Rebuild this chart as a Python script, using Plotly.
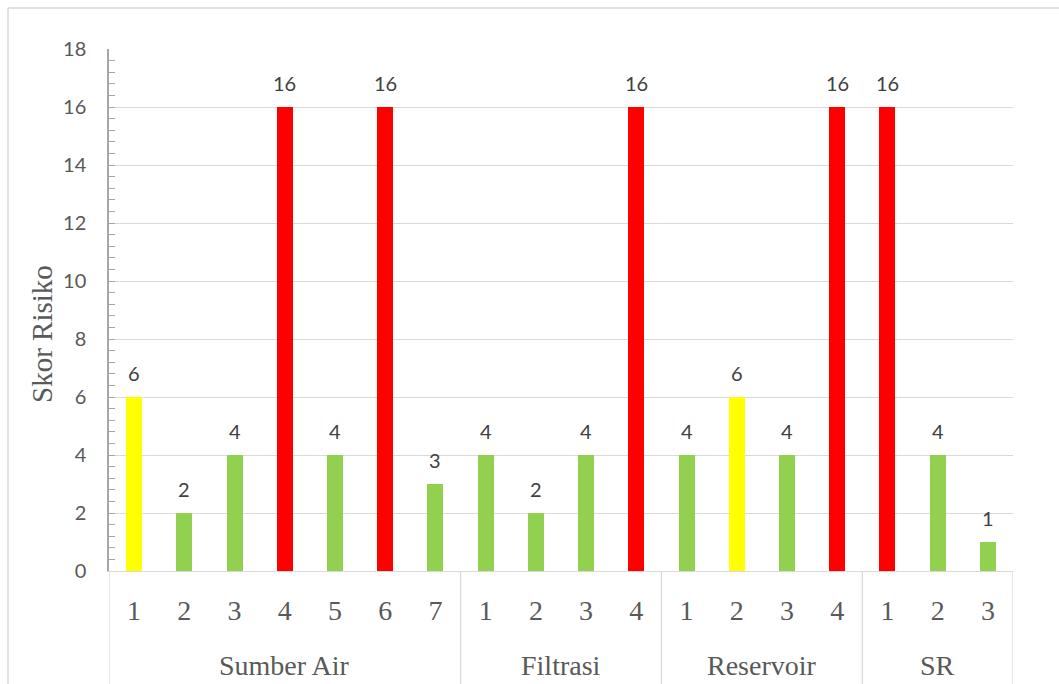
import plotly.graph_objects as go

# Risk score per process step, grouped by unit of the water system
groups = ["Sumber Air", "Filtrasi", "Reservoir", "SR"]
group_sizes = [7, 4, 4, 3]
step_labels = ["1", "2", "3", "4", "5", "6", "7",
               "1", "2", "3", "4",
               "1", "2", "3", "4",
               "1", "2", "3"]
scores = [6, 2, 4, 16, 4, 16, 3,
          4, 2, 4, 16,
          4, 6, 4, 16,
          16, 4, 1]
risk_levels = ["medium", "low", "low", "high", "low", "high", "low",
               "low", "low", "low", "high",
               "low", "medium", "low", "high",
               "high", "low", "low"]

level_colors = {"low": "#92D050", "medium": "#FFFF00", "high": "#FF0000"}

W, H = 1059, 684
L, R, T, B = 109, 46, 49, 113
plot_w = W - L - R
plot_h = H - T - B

SERIF = "Liberation Serif, Times New Roman, serif"
SANS = "Lato, Open Sans, sans-serif"


def px_x(px):
    return (px - L) / plot_w


def px_y(py):
    return (H - B - py) / plot_h


xs = list(range(len(scores)))

fig = go.Figure()
fig.add_trace(go.Bar(
    x=xs,
    y=scores,
    width=0.32,
    marker=dict(color=[level_colors[lv] for lv in risk_levels], line=dict(width=0)),
    hoverinfo="y",
))

annotations = []
# value labels above bars
for xi, v in zip(xs, scores):
    annotations.append(dict(
        x=xi, y=v, xref="x", yref="y", text=str(v), showarrow=False,
        yanchor="bottom", yshift=10,
        font=dict(family=SANS, size=20, color="#404040"),
    ))

# group labels and dividers under the axis
shapes = []
start = 0
bounds = [-0.5]
for g, n in zip(groups, group_sizes):
    center = start + (n - 1) / 2
    annotations.append(dict(
        x=center, y=px_y(665), xref="x", yref="paper", text=g, showarrow=False,
        yanchor="middle",
        font=dict(family=SERIF, size=28, color="#595959"),
    ))
    start += n
    bounds.append(start - 0.5)

for b in bounds:
    shapes.append(dict(
        type="line", xref="x", yref="paper", x0=b, x1=b, y0=0, y1=px_y(H),
        line=dict(color="#D9D9D9", width=1.3), layer="below",
    ))

# outer chart frame
shapes.append(dict(type="line", xref="paper", yref="paper",
                   x0=px_x(8), x1=px_x(W), y0=px_y(8), y1=px_y(8),
                   line=dict(color="#D9D9D9", width=1.5)))
shapes.append(dict(type="line", xref="paper", yref="paper",
                   x0=px_x(8), x1=px_x(8), y0=px_y(8), y1=px_y(H),
                   line=dict(color="#D9D9D9", width=1.5)))

# y-axis title
annotations.append(dict(
    x=px_x(42), y=px_y(334), xref="paper", yref="paper", text="Skor Risiko",
    showarrow=False, textangle=-90, xanchor="center", yanchor="middle",
    font=dict(family=SERIF, size=29, color="#595959"),
))

fig.update_layout(
    width=W, height=H,
    margin=dict(l=L, r=R, t=T, b=B, pad=0),
    paper_bgcolor="white", plot_bgcolor="white",
    showlegend=False,
    annotations=annotations,
    shapes=shapes,
    bargap=0,
)

fig.update_xaxes(
    range=[-0.5, len(scores) - 0.5],
    tickmode="array", tickvals=xs, ticktext=step_labels,
    ticks="", showgrid=False, zeroline=False,
    showline=True, linecolor="#D9D9D9", linewidth=1.3,
    tickfont=dict(family=SERIF, size=28, color="#595959"),
    ticklabelstandoff=14,
    fixedrange=True,
)

fig.update_yaxes(
    range=[0, 18], dtick=2, tick0=0,
    showgrid=True, gridcolor="#D9D9D9", gridwidth=1.3,
    zeroline=False,
    showline=True, linecolor="#A6A6A6", linewidth=1.5,
    ticks="inside", ticklen=6, tickcolor="#A6A6A6", tickwidth=1.3,
    minor=dict(ticks="inside", ticklen=6, dtick=0.4, tickcolor="#A6A6A6", tickwidth=1.3, showgrid=False),
    tickfont=dict(family=SANS, size=20, color="#595959"),
    ticklabelstandoff=17,
    fixedrange=True,
)

fig.write_html("out.html")
